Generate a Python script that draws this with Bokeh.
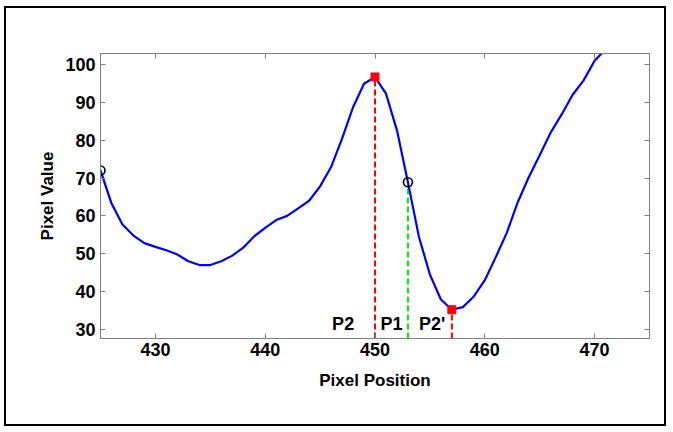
from bokeh.plotting import figure
from bokeh.models import FixedTicker, LinearAxis, Range1d, ColumnDataSource, CustomJSTickFormatter
from bokeh.embed import file_html
from bokeh.resources import INLINE
from bokeh.core.properties import value

# ---- data ----
positions = list(range(425, 472))
pixel_values = [72.0, 63.3, 57.7, 54.8, 52.8, 51.8, 50.9, 49.8, 48.0, 47.0,
                47.0, 48.0, 49.5, 51.6, 54.6, 56.8, 58.9, 60.0, 62.0, 64.0,
                67.8, 72.9, 80.4, 88.7, 94.9, 96.7, 92.3, 82.6, 68.9, 54.5,
                44.5, 37.9, 35.2, 35.9, 38.7, 43.0, 49.1, 55.5, 63.6, 70.2,
                76.0, 82.0, 86.8, 92.0, 95.8, 101.0, 104.0]
circle_x = [425, 453]
circle_y = [72.0, 68.9]
square_x = [450, 457]
square_y = [96.7, 35.2]
p2_x, p1_x, p2b_x = 450, 453, 457
label_texts = ["P2", "P1", "P2'"]
label_x = [448.1, 450.5, 454.0]
label_align = ["right", "left", "left"]
x_ticks = [430, 440, 450, 460, 470]
y_ticks = [30, 40, 50, 60, 70, 80, 90, 100]
x_lo, x_hi = 425, 475
y_lo, y_hi = 27.6, 102.9
label_y = 31.3

FONT = "Liberation Sans"
GRAY = "#7f7f7f"

p = figure(width=662, height=420, output_backend="svg", toolbar_location=None,
           x_range=Range1d(x_lo, x_hi), y_range=Range1d(y_lo, y_hi),
           min_border_left=94, min_border_right=19, min_border_top=45,
           min_border_bottom=90)
p.styles = {"border": "2px solid black", "margin-left": "4px", "margin-top": "6px"}
p.xgrid.visible = False
p.ygrid.visible = False
p.outline_line_color = GRAY
p.outline_line_width = 1

for ax, ticks in ((p.xaxis[0], x_ticks), (p.yaxis[0], y_ticks)):
    ax.ticker = FixedTicker(ticks=ticks)
    ax.axis_line_color = GRAY
    ax.major_tick_line_color = GRAY
    ax.major_tick_in = 5
    ax.major_tick_out = 0
    ax.minor_tick_line_color = None
    ax.major_label_text_font = FONT
    ax.major_label_text_font_style = "bold"
    ax.major_label_text_font_size = "18px"
    ax.major_label_text_color = "black"
    ax.axis_label_text_font = FONT
    ax.axis_label_text_font_style = "bold"
    ax.axis_label_text_font_size = "17px"
    ax.axis_label_text_color = "black"

p.xaxis[0].axis_label = "Pixel Position"
p.yaxis[0].axis_label = "Pixel Value"
p.xaxis[0].major_label_standoff = 4
p.xaxis[0].axis_label_standoff = 12
p.yaxis[0].major_label_standoff = 5
p.yaxis[0].axis_label_standoff = 5

blank = CustomJSTickFormatter(code="return ''")
top = LinearAxis(ticker=FixedTicker(ticks=x_ticks), axis_line_color=GRAY,
                 major_tick_line_color=GRAY, major_tick_in=5, major_tick_out=0,
                 minor_tick_line_color=None, formatter=blank,
                 major_label_standoff=0)
right = LinearAxis(ticker=FixedTicker(ticks=y_ticks), axis_line_color=GRAY,
                   major_tick_line_color=GRAY, major_tick_in=5, major_tick_out=0,
                   minor_tick_line_color=None, formatter=blank,
                   major_label_standoff=0)
p.add_layout(top, "above")
p.add_layout(right, "right")

# dashed verticals
p.segment(x0=[p2_x], y0=[y_lo], x1=[p2_x], y1=[square_y[0]],
          line_color="#ff0000", line_width=2, line_dash="6 3")
p.segment(x0=[p2b_x], y0=[y_lo], x1=[p2b_x], y1=[square_y[1]],
          line_color="#ff0000", line_width=2, line_dash="6 3")
p.segment(x0=[p1_x], y0=[y_lo], x1=[p1_x], y1=[circle_y[1]],
          line_color="#00ee00", line_width=2, line_dash="6 3")

p.line(positions, pixel_values, line_color="#0000ff", line_width=2.2)

p.scatter(square_x, square_y, marker="square", size=8,
          fill_color="#ff0000", line_color="#ff0000")
p.scatter(circle_x, circle_y, marker="circle", size=9, fill_color=None,
          line_color="black", line_width=1.6)

src = ColumnDataSource(dict(x=label_x, y=[label_y] * 3, t=label_texts, a=label_align))
p.text(x="x", y="y", text="t", text_align="a", source=src,
       text_baseline="middle", text_font=value(FONT), text_font_style="bold",
       text_font_size="18px", text_color="black")

open("out.html", "w").write(file_html(p, INLINE))
